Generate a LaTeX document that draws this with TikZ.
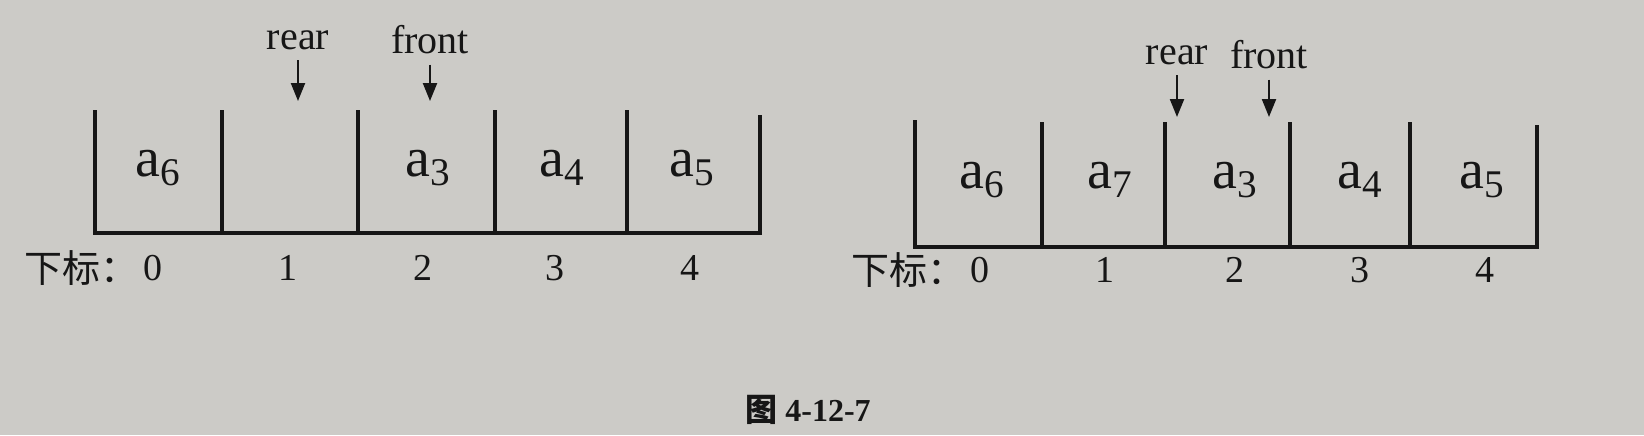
\documentclass[tikz,border=0pt]{standalone}
\usepackage{fontspec}
\setmainfont{Liberation Serif}
\newfontfamily\cjkfont{Noto Sans CJK SC}
\usetikzlibrary{arrows.meta, positioning}
\definecolor{paper}{RGB}{204,203,199}
\definecolor{ink}{RGB}{22,22,22}

\begin{document}
\begin{tikzpicture}[x=0.5pt, y=-0.5pt,
    wall/.style={ink, line width=1.7pt, line join=miter},
    cell/.style={font=\fontsize{28}{30}\selectfont, text=ink},
    idx/.style={font=\fontsize{19}{22}\selectfont, text=ink, inner sep=1pt},
    ptr/.style={font=\fontsize{20}{24}\selectfont, text=ink, inner sep=2pt},
    ptrarrow/.style={ink, line width=1.1pt, shorten <=3pt, -{Triangle[length=9pt,width=7pt]}}
  ]
    % Paper
    \fill[paper] (0,0) rectangle (1644,435);
    \useasboundingbox (0,0) rectangle (1644,435);

    % Left queue
    \draw[wall] (95,110) -- (95,233) -- (760,233) -- (760,115);
    \foreach \x in {222,358,495,627}
        \draw[wall] (\x,110) -- (\x,233);
    \foreach \x/\name/\val in {158/la0/6, 428/la2/3, 562/la3/4, 692/la4/5}
        \node[cell] (\name) at (\x,168) {a\textsubscript{\val}};
    \foreach \x/\i in {153/0, 288/1, 423/2, 555/3, 690/4}
        \node[idx] (lidx\i) at (\x,268) {\i};
    \node[idx, left=0pt of lidx0] (llabel) {\cjkfont 下标：};

    % Left pointers
    \node[ptr] (lrear) at (298,40) {rear};
    \node[ptr] (lfront) at (430,40) {front};
    \coordinate (lrearend) at (298,101);
    \coordinate (lfrontend) at (430,101);
    \draw[ptrarrow] (lrear) -- (lrearend);
    \draw[ptrarrow] (lfront) -- (lfrontend);

    % Right queue
    \draw[wall] (915,120) -- (915,247) -- (1537,247) -- (1537,125);
    \foreach \x in {1042,1165,1290,1410}
        \draw[wall] (\x,122) -- (\x,247);
    \foreach \x/\name/\val in {982/ra0/6, 1110/ra1/7, 1235/ra2/3, 1360/ra3/4, 1482/ra4/5}
        \node[cell] (\name) at (\x,180) {a\textsubscript{\val}};
    \foreach \x/\i in {980/0, 1105/1, 1235/2, 1360/3, 1485/4}
        \node[idx] (ridx\i) at (\x,270) {\i};
    \node[idx, left=0pt of ridx0] (rlabel) {\cjkfont 下标：};

    % Right pointers
    \node[ptr] (rrear) at (1177,55) {rear};
    \node[ptr] (rfront) at (1269,55) {front};
    \coordinate (rrearend) at (1177,117);
    \coordinate (rfrontend) at (1269,117);
    \draw[ptrarrow] (rrear) -- (rrearend);
    \draw[ptrarrow] (rfront) -- (rfrontend);

    % Caption
    \node[font=\fontsize{16}{20}\selectfont, text=ink] (caption) at (808,410)
        {{\cjkfont\bfseries 图} \textbf{4-12-7}};
\end{tikzpicture}
\end{document}
